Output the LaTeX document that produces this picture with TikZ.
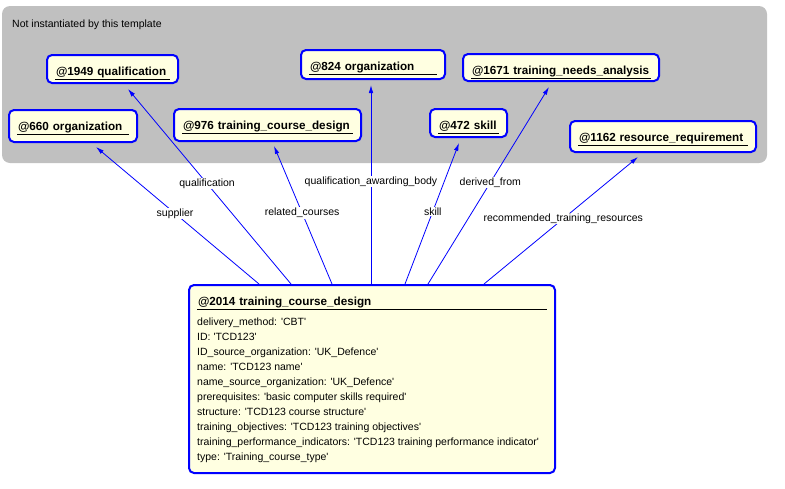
\documentclass[tikz,border=0pt]{standalone}
\usepackage{fontspec}
\newfontfamily\msfont{Liberation Sans}
\usetikzlibrary{arrows.meta}

\definecolor{tmplgrey}{RGB}{192,192,192}
\definecolor{instyellow}{RGB}{255,255,225}

\tikzset{
	inst/.style={draw=blue, line width=2pt, rounded corners=5pt, fill=instyellow,
		anchor=north west, inner xsep=9pt, inner ysep=0pt, align=left,
		text height=20pt, font=\msfont\bfseries\fontsize{11.7}{14}\selectfont,
		execute at begin node={\hyphenpenalty=10000\exhyphenpenalty=10000}},
	hdline/.style={draw=black, line width=1pt},
	attr/.style={anchor=base west, inner sep=0pt, font=\msfont\fontsize{10.5}{13}\selectfont},
	link/.style={draw=blue, line width=0.8pt, -{Latex[length=8pt,width=4.5pt]}},
	role/.style={pos=0.515, fill=white, inner sep=1pt, font=\msfont\fontsize{10.5}{13}\selectfont}
}

\begin{document}
\begin{tikzpicture}[x=1pt,y=-1pt]
	\useasboundingbox (0,0) rectangle (785,488);

	\fill[tmplgrey, rounded corners=8pt] (2,6) rectangle (767,163);
	\node[attr] (note) at (12,27) {Not instantiated by this template};

	\node[inst, text width=113pt, text depth=8pt]  (n1949) at (46,54)  {@1949 qualification};
	\node[inst, text width=110pt, text depth=12pt] (n660)  at (8,109)  {@660 organization};
	\node[inst, text width=169pt, text depth=12pt] (n976)  at (173,108) {@976 training\_course\_design};
	\node[inst, text width=126pt, text depth=9pt]  (n824)  at (300,49) {@824 organization};
	\node[inst, text width=178pt, text depth=7pt]  (n1671) at (462,53) {@1671 training\_needs\_analysis};
	\node[inst, text width=59pt,  text depth=8pt]  (n472)  at (429,108) {@472 skill};
	\node[inst, text width=168pt, text depth=11pt] (n1162) at (569,120) {@1162 resource\_requirement};
	\node[inst, text width=348pt, text depth=168pt] (main) at (188,284) {@2014 training\_course\_design};

	\foreach \n in {n1949,n660,n976,n824,n1671,n472,n1162,main}
		\draw[hdline] ([xshift=9pt,yshift=-4pt]\n.base west) -- ([xshift=-9pt,yshift=-4pt]\n.base east);

	\foreach \a [count=\i from 0] in {delivery\_method: 'CBT', ID: 'TCD123',
		ID\_source\_organization: 'UK\_Defence', name: 'TCD123 name',
		name\_source\_organization: 'UK\_Defence',
		prerequisites: 'basic computer skills required',
		structure: 'TCD123 course structure',
		training\_objectives: 'TCD123 training objectives',
		training\_performance\_indicators: 'TCD123 training performance indicator',
		type: 'Training\_course\_type'}
		\node[attr] (attr\i) at ([xshift=9pt,yshift={-20pt-15pt*\i}]main.base west) {\a};

	\draw[link] ([xshift=71pt]main.north west) -- node[role] (lsupplier) {supplier}
		([xshift=88pt,yshift=-4pt]n660.south west);
	\draw[link] ([xshift=103pt]main.north west) -- node[role] (lqual) {qualification}
		([xshift=82pt,yshift=-5pt]n1949.south west);
	\draw[link] ([xshift=144pt]main.north west) -- node[role] (lrelated) {related\_courses}
		([xshift=101pt,yshift=-4pt]n976.south west);
	\draw[link] ([xshift=183pt]main.north west) -- node[role] (lbody) {qualification\_awarding\_body}
		([xshift=71pt,yshift=-5pt]n824.south west);
	\draw[link] ([xshift=217pt]main.north west) -- node[role] (lskill) {skill}
		([xshift=30pt,yshift=-5pt]n472.south west);
	\draw[link] ([xshift=240pt]main.north west) -- node[role] (lderived) {derived\_from}
		([xshift=87pt,yshift=-5pt]n1671.south west);
	\draw[link] ([xshift=296pt]main.north west) -- node[role] (lresources) {recommended\_training\_resources}
		([xshift=69pt,yshift=-4pt]n1162.south west);

\end{tikzpicture}
\end{document}
